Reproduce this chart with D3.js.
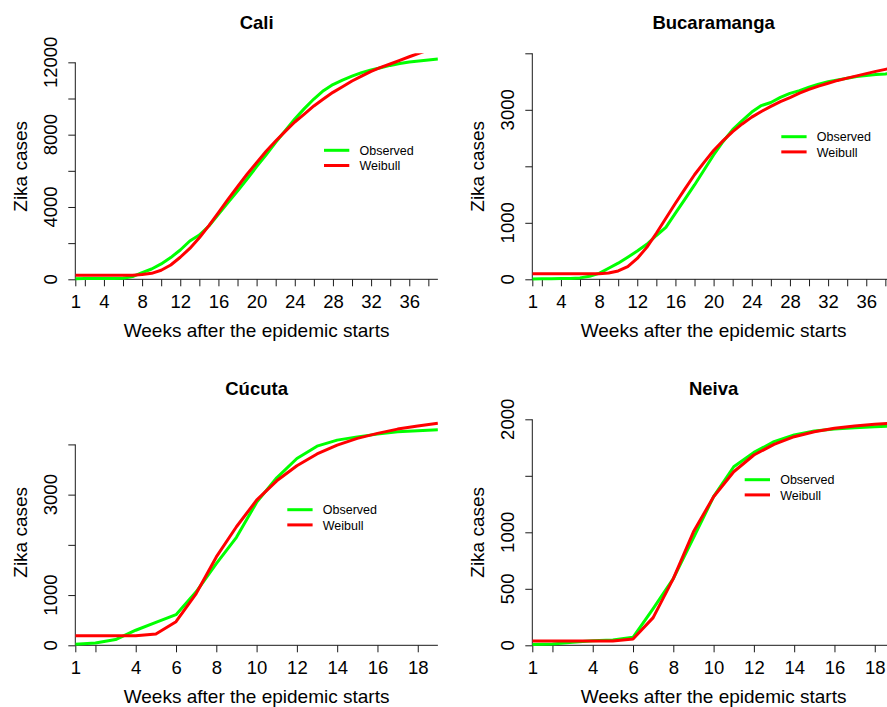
<!DOCTYPE html>
<html>
<head>
<meta charset="utf-8">
<script src="https://cdn.jsdelivr.net/npm/d3@7"></script>
<style>
  html, body { margin: 0; padding: 0; background: #fff; }
  svg { display: block; }
  text { font-family: "Liberation Sans", Arial, Helvetica, sans-serif; fill: #000; }
</style>
</head>
<body>
<svg id="chart" width="887" height="707"></svg>
<script>
// ---------------- data ----------------
const weeksLong = [1,2,3,4,5,6,7,8,9,10,11,12,13,14,15,16,17,18,19,20,21,22,23,24,25,26,27,28,29,30,31,32,33,34,35,36,37,38,39];
const weeksShort = [1,2,3,4,5,6,7,8,9,10,11,12,13,14,15,16,17,18,19];

const caliObserved = [30,50,50,50,50,60,150,370,570,850,1200,1620,2120,2450,2950,3590,4240,4880,5550,6230,6890,7580,8220,8870,9440,9970,10430,10770,11020,11240,11430,11580,11700,11830,11940,12020,12070,12130,12180];
const caliWeibull   = [220,220,220,220,220,220,225,260,330,500,790,1220,1710,2300,2970,3690,4420,5120,5810,6450,7080,7650,8180,8700,9140,9590,9970,10340,10650,10970,11240,11500,11720,11910,12110,12310,12500,12680,12870];

const bucaObserved  = [5,8,10,12,15,25,55,105,195,285,390,500,620,775,920,1170,1420,1670,1935,2200,2440,2650,2810,2960,3075,3130,3220,3290,3340,3400,3455,3495,3530,3560,3590,3605,3625,3635,3655];
const bucaWeibull   = [100,100,100,100,100,100,100,100,112,148,225,370,565,815,1080,1345,1600,1850,2070,2280,2455,2615,2750,2870,2970,3060,3145,3215,3295,3360,3420,3470,3520,3560,3600,3640,3680,3715,3750];

const cucutaObserved = [20,46,115,300,455,610,1065,1625,2150,2845,3335,3720,3965,4085,4150,4205,4250,4270,4290];
const cucutaWeibull  = [190,190,190,190,225,470,1030,1760,2360,2890,3275,3575,3810,3985,4120,4220,4305,4365,4420];

const neivaObserved = [6,12,27,41,47,71,325,590,950,1315,1580,1707,1802,1861,1897,1914,1926,1935,1941];
const neivaWeibull  = [38,38,38,38,38,56,245,590,1004,1315,1536,1684,1778,1846,1890,1920,1941,1956,1967];

const xTicksLong = [1,2,4,6,8,10,12,14,16,18,20,22,24,26,28,30,32,34,36,38];
const xLabelsLong = [1,4,8,12,16,20,24,28,32,36];
const xTicksShort = [1,2,4,6,8,10,12,14,16,18];
const xLabelsShort = [1,4,6,8,10,12,14,16,18];

const caliYTicks = [0,2000,4000,6000,8000,10000,12000];
const caliYLabels = [0,4000,8000,12000];
const bucaYTicks = [0,1000,2000,3000,4000];
const bucaYLabels = [0,1000,3000];
const cucutaYTicks = [0,1000,2000,3000,4000];
const cucutaYLabels = [0,1000,3000];
const neivaYTicks = [0,500,1000,1500,2000];
const neivaYLabels = [0,500,1000,2000];

const seriesNames = ["Observed", "Weibull"];
const seriesColors = ["#00ff00", "#ff0000"];

// ---------------- layout ----------------
const plotW = 362.6, plotH = 226;
const panels = [
  { title: "Cali", left: 75.3, top: 53.3, weeks: weeksLong, obs: caliObserved, wei: caliWeibull,
    yMax: 12500, yTicks: caliYTicks, yLabels: caliYLabels, xTicks: xTicksLong, xLabels: xLabelsLong, legend: [248.7, 97] },
  { title: "Bucaramanga", left: 532.3, top: 53.3, weeks: weeksLong, obs: bucaObserved, wei: bucaWeibull,
    yMax: 4000, yTicks: bucaYTicks, yLabels: bucaYLabels, xTicks: xTicksLong, xLabels: xLabelsLong, legend: [249, 83.4] },
  { title: "Cúcuta", left: 75.3, top: 419.3, weeks: weeksShort, obs: cucutaObserved, wei: cucutaWeibull,
    yMax: 4500, yTicks: cucutaYTicks, yLabels: cucutaYLabels, xTicks: xTicksShort, xLabels: xLabelsShort, legend: [212, 90.4] },
  { title: "Neiva", left: 532.3, top: 419.3, weeks: weeksShort, obs: neivaObserved, wei: neivaWeibull,
    yMax: 2000, yTicks: neivaYTicks, yLabels: neivaYLabels, xTicks: xTicksShort, xLabels: xLabelsShort, legend: [212.4, 60.4] }
];

const svg = d3.select("#chart");
const axisColor = "#1a1a1a";
const fs = 18.5;
const fsTitle = 19;

panels.forEach((p, i) => {
  const x = d3.scaleLinear().domain([p.weeks[0], p.weeks[p.weeks.length - 1]]).range([p.left, p.left + plotW]);
  const y = d3.scaleLinear().domain([0, p.yMax]).range([p.top + plotH, p.top]);
  const g = svg.append("g");
  const bottom = p.top + plotH;

  // clip
  const clipId = "clip" + i;
  svg.append("clipPath").attr("id", clipId).append("rect")
    .attr("x", p.left).attr("y", p.top).attr("width", plotW).attr("height", plotH + 2);

  // title
  g.append("text").attr("x", p.left + plotW / 2).attr("y", p.top - 24.5)
    .attr("text-anchor", "middle").attr("font-weight", "bold").attr("font-size", 18.5)
    .text(p.title);

  // x axis
  const xAxis = d3.axisBottom(x).tickValues(p.xTicks).tickSize(7).tickPadding(8.5)
    .tickFormat(d => p.xLabels.includes(d) ? String(d) : "");
  const xg = g.append("g").attr("transform", `translate(0,${bottom})`).call(xAxis);
  xg.select(".domain").remove();
  xg.selectAll("line").attr("stroke", axisColor);
  xg.selectAll("text").attr("font-size", fs).attr("fill", "#000")
    .attr("font-family", "Liberation Sans, Arial, sans-serif");
  g.append("line").attr("x1", p.left).attr("x2", p.left + plotW).attr("y1", bottom).attr("y2", bottom)
    .attr("stroke", axisColor).attr("stroke-width", 1);

  // y axis
  const yAxis = d3.axisLeft(y).tickValues(p.yTicks).tickSize(7).tickFormat("");
  const yg = g.append("g").attr("transform", `translate(${p.left},0)`).call(yAxis);
  yg.select(".domain").remove();
  yg.selectAll("line").attr("stroke", axisColor);
  g.append("line").attr("x1", p.left).attr("x2", p.left)
    .attr("y1", y(p.yTicks[0])).attr("y2", y(p.yTicks[p.yTicks.length - 1]))
    .attr("stroke", axisColor).attr("stroke-width", 1);
  p.yLabels.forEach(v => {
    g.append("text").attr("transform", `translate(${p.left - 18.5},${y(v)}) rotate(-90)`)
      .attr("text-anchor", "middle").attr("font-size", fs).text(String(v));
  });

  // axis titles
  g.append("text").attr("x", p.left + plotW / 2).attr("y", bottom + 58)
    .attr("text-anchor", "middle").attr("font-size", fsTitle).text("Weeks after the epidemic starts");
  g.append("text").attr("transform", `translate(${p.left - 48.3},${p.top + plotH / 2}) rotate(-90)`)
    .attr("text-anchor", "middle").attr("font-size", fsTitle).text("Zika cases");

  // lines
  const line = d3.line().x((d, j) => x(p.weeks[j])).y(d => y(d));
  const lg = g.append("g").attr("clip-path", `url(#${clipId})`);
  [p.obs, p.wei].forEach((vals, k) => {
    lg.append("path").datum(vals).attr("d", line)
      .attr("fill", "none").attr("stroke", seriesColors[k]).attr("stroke-width", 3)
      .attr("stroke-linejoin", "round").attr("stroke-linecap", "butt");
  });

  // legend
  const lx = p.left + p.legend[0], ly = p.top + p.legend[1];
  seriesNames.forEach((name, k) => {
    const yy = ly + k * 15.2;
    g.append("line").attr("x1", lx).attr("x2", lx + 25.3).attr("y1", yy).attr("y2", yy)
      .attr("stroke", seriesColors[k]).attr("stroke-width", 3);
    g.append("text").attr("x", lx + 35.5).attr("y", yy + 4.6).attr("font-size", 12.5).text(name);
  });
});
</script>
</body>
</html>
